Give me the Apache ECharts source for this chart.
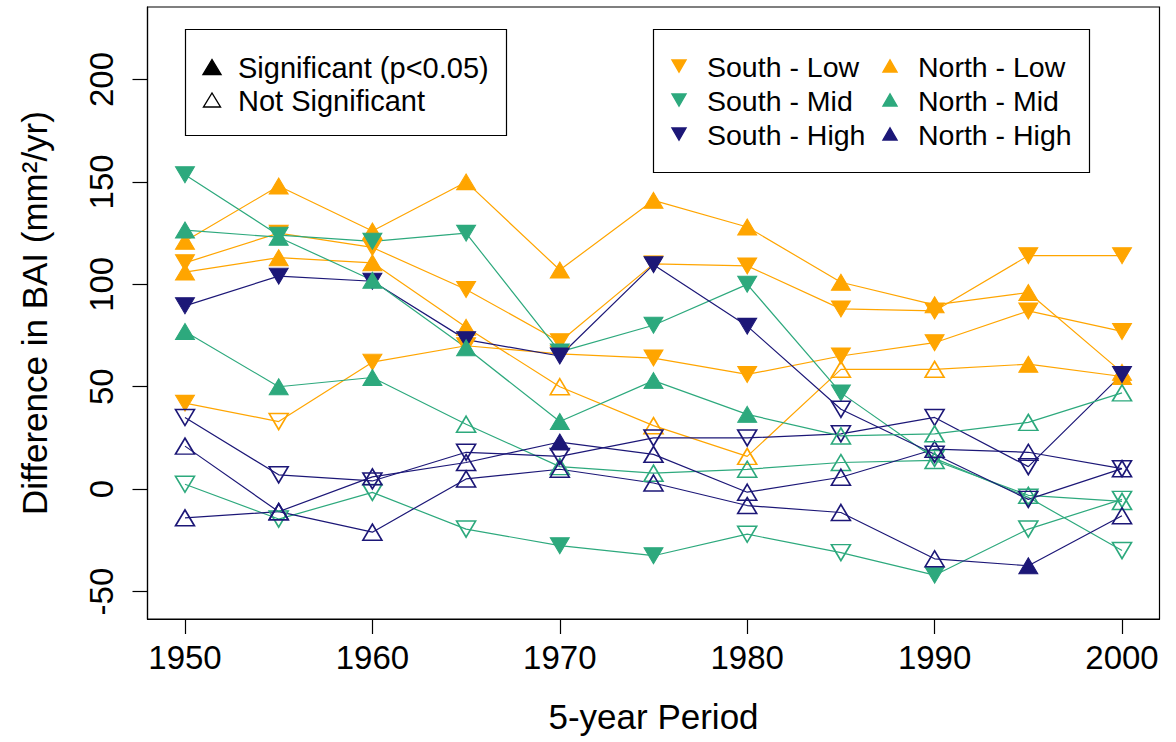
<!DOCTYPE html>
<html>
<head>
<meta charset="utf-8">
<script src="https://cdn.jsdelivr.net/npm/echarts@6/dist/echarts.min.js"></script>
<style>
html,body{margin:0;padding:0;background:#fff;}
#chart{width:1176px;height:742px;}
</style>
</head>
<body>
<div id="chart"></div>
<script>
// ---- data ----
const years = [1950, 1955, 1960, 1965, 1970, 1975, 1980, 1985, 1990, 1995, 2000];
const xTicks = [1950, 1960, 1970, 1980, 1990, 2000];
const yTicks = [-50, 0, 50, 100, 150, 200];

// Low elevation
const southLowA = [110.5, 125, 118, 97.5, 72, 110, 109, 88, 87, 114, 114];
const southLowASig = [1,1,1,1,1,1,1,1,1,1,1];
const southLowB = [42, 33, 62, 70, 66, 64, 56, 65, 71.5, 87, 77];
const southLowBSig = [1,0,1,1,1,1,1,1,1,1,1];
const northLowA = [121, 148, 126, 150, 107, 141, 128, 101, 90, 96, 57];
const northLowASig = [1,1,1,1,1,1,1,1,1,1,1];
const northLowB = [106, 113, 110.5, 79, 50, 31, 16, 58.5, 58.5, 61, 55];
const northLowBSig = [1,1,1,1,0,0,0,0,0,1,1];

// Mid elevation
const southMidA = [153.5, 124, 121, 125, 67, 80, 100, 47, 15, -4, -30];
const southMidASig = [1,1,1,1,1,1,1,1,0,0,0];
const southMidB = [2.4, -14.6, -1.6, -19.5, -27.6, -32.5, -22, -31, -42, -19.5, -5];
const southMidBSig = [0,0,0,0,1,1,0,0,1,0,0];
const northMidA = [126.5, 123, 102, 69, 33, 53, 36.5, 26, 27, 32.6, 47];
const northMidASig = [1,1,1,1,1,1,1,0,0,0,0];
const northMidB = [77, 50, 54.5, 31.7, 11, 7.8, 9.7, 13, 14, -3, -6];
const northMidBSig = [1,1,1,0,0,0,0,0,0,0,0];

// High elevation
const southHighA = [89.5, 104, 101.5, 73, 65, 109.6, 79.6, 39, 17, -5, 10];
const southHighASig = [1,1,1,1,1,1,1,0,0,0,0];
const southHighB = [35, 7, 4, 18, 16, 25, 25, 27, 35, 11, 56];
const southHighBSig = [0,0,0,0,0,0,0,0,0,0,1];
const northHighA = [21, -11, -21, 5, 9.7, 3, -8, -11.4, -34, -37.4, -13];
const northHighASig = [0,0,0,0,0,0,0,0,0,1,0];
const northHighB = [-14, -11, 6, 13, 23, 17, -1.5, 5.8, 19.5, 18, 10];
const northHighBSig = [0,0,0,0,1,0,0,0,0,0,0];

// ---- styles ----
const ORANGE = '#FFA500';
const GREEN = '#2DA97D';
const NAVY = '#1C1777';
const FONT = '"Liberation Sans", Arial, Helvetica, sans-serif';

function makeSeries(name, vals, sig, color, down) {
  return {
    type: 'line',
    name: name,
    silent: true,
    symbol: 'triangle',
    symbolSize: [19, 16],
    symbolRotate: down ? 180 : 0,
    showSymbol: true,
    showAllSymbol: true,
    lineStyle: { color: color, width: 1.2 },
    itemStyle: { color: color },
    emphasis: { disabled: true },
    data: years.map((yr, i) => ({
      value: [yr, vals[i]],
      itemStyle: sig[i]
        ? { color: color, borderColor: color, borderWidth: 1 }
        : { color: 'rgba(255,255,255,0)', borderColor: color, borderWidth: 1.6 }
    }))
  };
}

const series = [
  makeSeries('South - Low', southLowA, southLowASig, ORANGE, true),
  makeSeries('South - Low', southLowB, southLowBSig, ORANGE, true),
  makeSeries('North - Low', northLowA, northLowASig, ORANGE, false),
  makeSeries('North - Low', northLowB, northLowBSig, ORANGE, false),
  makeSeries('South - Mid', southMidA, southMidASig, GREEN, true),
  makeSeries('North - Mid', northMidB, northMidBSig, GREEN, false),
  makeSeries('South - Mid', southMidB, southMidBSig, GREEN, true),
  makeSeries('South - High', southHighA, southHighASig, NAVY, true),
  makeSeries('South - High', southHighB, southHighBSig, NAVY, true),
  makeSeries('North - High', northHighA, northHighASig, NAVY, false),
  makeSeries('North - High', northHighB, northHighBSig, NAVY, false),
  makeSeries('North - Mid', northMidA, northMidASig, GREEN, false)
];

// ---- legend drawn with graphic elements ----
function tri(cx, cy, w, h, down, fill, stroke) {
  const pts = down
    ? [[cx - w / 2, cy - h / 2], [cx + w / 2, cy - h / 2], [cx, cy + h / 2]]
    : [[cx - w / 2, cy + h / 2], [cx + w / 2, cy + h / 2], [cx, cy - h / 2]];
  return { type: 'polygon', shape: { points: pts }, style: { fill: fill, stroke: stroke, lineWidth: 1.4 }, z: 100 };
}
function txt(x, y, s, size) {
  return { type: 'text', x: x, y: y, style: { text: s, font: size + 'px ' + FONT, fill: '#000', verticalAlign: 'middle', align: 'left' }, z: 100 };
}

const graphic = [
  { type: 'rect', shape: { x: 185.5, y: 29.5, width: 321, height: 106 }, style: { fill: '#fff', stroke: '#000', lineWidth: 1.2 }, z: 99 },
  tri(212, 67, 18, 15, false, '#000', '#000'),
  txt(238, 68, 'Significant (p<0.05)', 29),
  tri(212, 100, 17, 14, false, 'none', '#000'),
  txt(238, 101, 'Not Significant', 29),

  { type: 'rect', shape: { x: 653.5, y: 29.5, width: 436, height: 143 }, style: { fill: '#fff', stroke: '#000', lineWidth: 1.2 }, z: 99 },
  tri(679, 66, 14, 12, true, ORANGE, ORANGE),
  txt(707, 67, 'South - Low', 28.5),
  tri(679, 100, 14, 12, true, GREEN, GREEN),
  txt(707, 101, 'South - Mid', 28.5),
  tri(679, 134, 14, 12, true, NAVY, NAVY),
  txt(707, 135, 'South - High', 28.5),
  tri(890, 66, 14, 12, false, ORANGE, ORANGE),
  txt(918, 67, 'North - Low', 28.5),
  tri(890, 100, 14, 12, false, GREEN, GREEN),
  txt(918, 101, 'North - Mid', 28.5),
  tri(890, 134, 14, 12, false, NAVY, NAVY),
  txt(918, 135, 'North - High', 28.5)
];

const option = {
  animation: false,
  backgroundColor: '#fff',
  textStyle: { fontFamily: FONT },
  grid: {
    left: 147.5, right: 16.5, top: 7, bottom: 123,
    show: true, borderColor: '#000', borderWidth: 1.2, backgroundColor: 'transparent'
  },
  xAxis: {
    type: 'value', min: 1948, max: 2002,
    axisLine: { show: true, onZero: false, lineStyle: { color: '#000', width: 1.2 } },
    axisTick: { show: true, length: 15, inside: false, customValues: xTicks, lineStyle: { color: '#000', width: 1.2 } },
    axisLabel: { customValues: xTicks, fontSize: 33, color: '#000', margin: 22, fontFamily: FONT,
                 formatter: function (v) { return String(Math.round(v)); } },
    splitLine: { show: false },
    name: '5-year Period', nameLocation: 'middle', nameGap: 80,
    nameTextStyle: { fontSize: 35, color: '#000', fontFamily: FONT }
  },
  yAxis: {
    type: 'value', min: -63.4, max: 235.4,
    axisLine: { show: true, onZero: false, lineStyle: { color: '#000', width: 1.2 } },
    axisTick: { show: true, length: 15, inside: false, customValues: yTicks, lineStyle: { color: '#000', width: 1.2 } },
    axisLabel: { customValues: yTicks, fontSize: 33, color: '#000', margin: 30, rotate: 90, fontFamily: FONT,
                 formatter: function (v) { return String(Math.round(v)); } },
    splitLine: { show: false },
    name: 'Difference in BAI (mm²/yr)', nameLocation: 'middle', nameGap: 96,
    nameTextStyle: { fontSize: 35, color: '#000', fontFamily: FONT }
  },
  series: series,
  graphic: graphic
};

const chart = echarts.init(document.getElementById('chart'), null, { renderer: 'svg' });
chart.setOption(option);
</script>
</body>
</html>
